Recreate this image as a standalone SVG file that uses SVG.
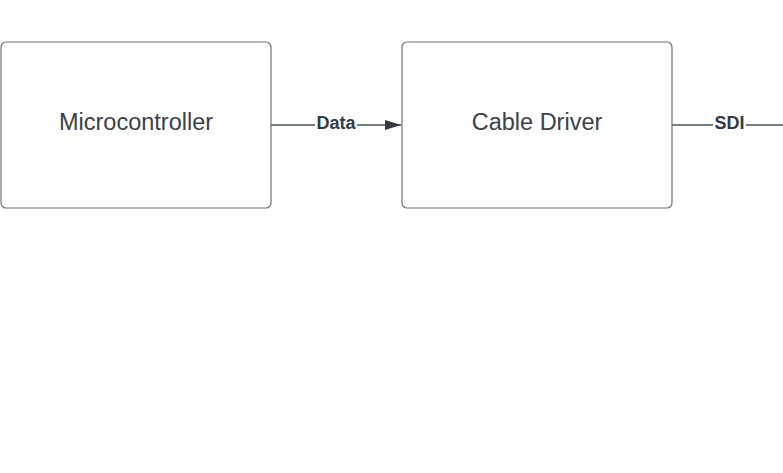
<svg xmlns="http://www.w3.org/2000/svg" width="783" height="473" viewBox="0 0 783 473">
<style>
.box{fill:#ffffff;stroke:#6b7078;stroke-width:1.2}
.lbl{font-family:"Liberation Sans",Arial,sans-serif;font-size:23.5px;fill:#3a414b;text-anchor:middle}
.conn{stroke:#4a5059;stroke-width:1.3;fill:none}
.clbl{font-family:"Liberation Sans",Arial,sans-serif;font-size:18px;font-weight:bold;fill:#333a44;text-anchor:middle}
</style>
<defs>
<marker id="arr" viewBox="0 0 16 10" refX="16" refY="5" markerWidth="16" markerHeight="10" markerUnits="userSpaceOnUse" orient="auto">
<path d="M0,0 L16,5 L0,10 Z" fill="#333a44"/>
</marker>
</defs>
<rect width="783" height="473" fill="#ffffff"/>
<g id="connectors">
<path class="conn" d="M271,125 H315"/>
<path class="conn" d="M357,125 H401" marker-end="url(#arr)"/>
<text class="clbl" x="336" y="129">Data</text>
<path class="conn" d="M672,125 H713"/>
<path class="conn" d="M746,125 H783"/>
<text class="clbl" x="729.5" y="129">SDI</text>
</g>
<g id="microcontroller">
<rect class="box" x="1" y="42" width="270" height="166" rx="5"/>
<text class="lbl" x="136" y="129.5">Microcontroller</text>
</g>
<g id="cable-driver">
<rect class="box" x="402" y="42" width="270" height="166" rx="5"/>
<text class="lbl" x="537" y="129.5">Cable Driver</text>
</g>
</svg>
